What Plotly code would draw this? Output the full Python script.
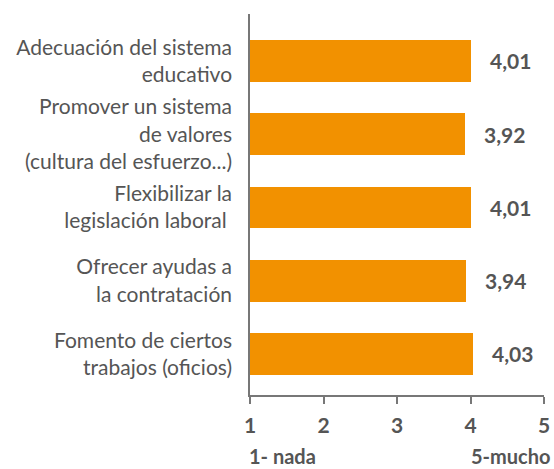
import plotly.graph_objects as go

categories = [
    "Adecuación del sistema<br>educativo",
    "Promover un sistema<br>de valores<br>(cultura del esfuerzo...)",
    "Flexibilizar la<br>legislación laboral ",
    "Ofrecer ayudas a<br>la contratación",
    "Fomento de ciertos<br>trabajos (oficios)",
]
values = [4.01, 3.92, 4.01, 3.94, 4.03]
value_labels = ["4,01", "3,92", "4,01", "3,94", "4,03"]
x_ticks = [1, 2, 3, 4, 5]
x_tick_labels = ["1", "2", "3", "4", "5"]

GRAY = "#555555"
ORANGE = "#F29100"

fig = go.Figure()
fig.add_trace(go.Bar(
    y=list(range(len(categories))),
    x=[v - 1 for v in values],
    base=1,
    orientation="h",
    marker=dict(color=ORANGE, line=dict(width=0)),
    width=0.57,
    hoverinfo="skip",
))

for i, (v, t) in enumerate(zip(values, value_labels)):
    fig.add_annotation(x=v, y=i, text=t, showarrow=False, xanchor="left",
                       xshift=17, font=dict(family="Lato", size=21, color=GRAY, weight="bold"))

fig.add_annotation(xref="paper", yref="paper", x=0, y=-0.16, yanchor="middle", xanchor="left",
                   xshift=-3, text="1- nada", showarrow=False,
                   font=dict(family="Lato", size=20, color=GRAY, weight="bold"))
fig.add_annotation(xref="paper", yref="paper", x=1, y=-0.16, yanchor="middle", xanchor="right",
                   xshift=9, text="5-mucho", showarrow=False,
                   font=dict(family="Lato", size=20, color=GRAY, weight="bold"))

fig.update_layout(
    width=554, height=469,
    margin=dict(l=250, r=10, t=14, b=74),
    paper_bgcolor="white", plot_bgcolor="white",
    showlegend=False,
    bargap=0,
    xaxis=dict(
        range=[1, 5], tickvals=x_ticks, ticktext=x_tick_labels,
        showline=True, linecolor="#777777", linewidth=1.5,
        ticks="outside", ticklen=7, tickcolor="#777777", tickwidth=1.5,
        showgrid=False, zeroline=False, automargin=False,
        tickfont=dict(family="Lato", size=21, color=GRAY, weight="bold"),
        ticklabelstandoff=4,
    ),
    yaxis=dict(
        range=[4.56, -0.64],
        tickvals=list(range(len(categories))), ticktext=categories,
        showline=True, linecolor="#777777", linewidth=1.5,
        ticks="", showgrid=False, zeroline=False, automargin=False,
        tickfont=dict(family="Lato", size=21, color=GRAY),
        ticklabelstandoff=12,
    ),
)

fig.write_html("out.html", config={"displayModeBar": False},
               post_script="document.body.style.margin='0';")
